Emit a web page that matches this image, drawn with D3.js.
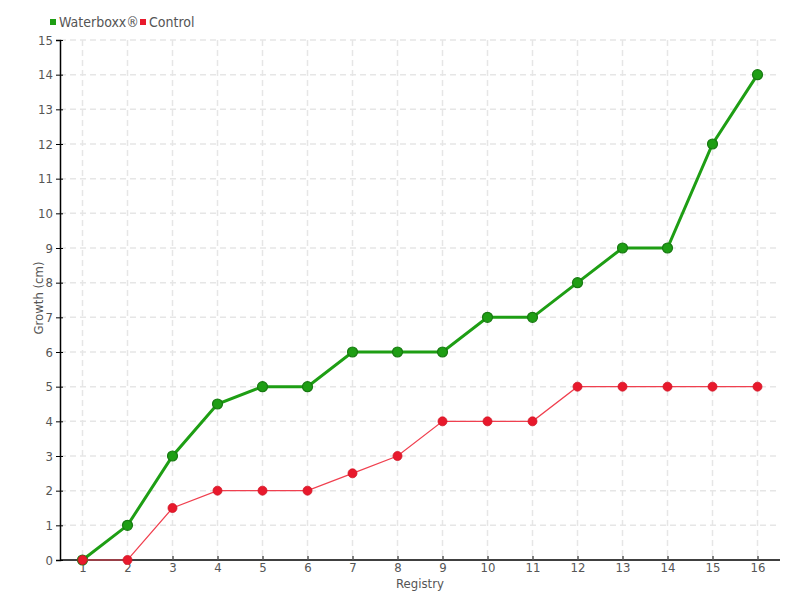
<!DOCTYPE html>
<html><head><meta charset="utf-8">
<script src="https://cdn.jsdelivr.net/npm/d3@7"></script>
<style>
body{margin:0;background:#fff;}
text{font-family:"DejaVu Sans",sans-serif;font-stretch:condensed;}
</style></head>
<body><svg id="c" width="800" height="600"></svg>
<script>
const registry = ["1","2","3","4","5","6","7","8","9","10","11","12","13","14","15","16"];
const waterboxx = [0,1,3,4.5,5,5,6,6,6,7,7,8,9,9,12,14];
const control = [0,0,1.5,2,2,2,2.5,3,4,4,4,5,5,5,5,5];
const yTicks = [0,1,2,3,4,5,6,7,8,9,10,11,12,13,14,15];
const seriesNames = ["Waterboxx®","Control"];

const svg = d3.select("#c");
const L=60,R=780,T=40,B=560;
const x = d3.scalePoint().domain(registry).range([L,R]).padding(0.5);
const y = d3.scaleLinear().domain([0,15]).range([B,T]);

const g = svg.append("g");
g.selectAll(".hg").data(yTicks.slice(1)).join("line")
  .attr("x1",L).attr("x2",R).attr("y1",d=>y(d)).attr("y2",d=>y(d))
  .attr("stroke","#e6e6e6").attr("stroke-dasharray","6,4").attr("stroke-width",1.5);
g.selectAll(".vg").data(registry).join("line")
  .attr("x1",d=>x(d)).attr("x2",d=>x(d)).attr("y1",T).attr("y2",B)
  .attr("stroke","#e6e6e6").attr("stroke-dasharray","6,4").attr("stroke-width",1.5);

const yAx = svg.append("g").attr("transform",`translate(${L},0)`)
  .call(d3.axisLeft(y).tickValues(yTicks).tickSize(4).tickPadding(3));
yAx.select(".domain").attr("stroke","#000").attr("stroke-width",1.5);
yAx.selectAll(".tick line").attr("stroke","#000").attr("x2",-4).attr("x1",3);
yAx.selectAll("text").attr("fill","#555").attr("font-size",13);

const xAx = svg.append("g").attr("transform",`translate(0,${B})`)
  .call(d3.axisBottom(x).tickSize(0).tickPadding(3));
xAx.select(".domain").attr("stroke","#000").attr("stroke-width",1.5).attr("d",`M${L},0H${R}`);
xAx.selectAll(".tick line").attr("stroke","#555").attr("y1",-4).attr("y2",0).attr("stroke-width",1.5);
xAx.selectAll("text").attr("fill","#555").attr("font-size",13);

svg.append("text").attr("x",420).attr("y",588).attr("text-anchor","middle")
  .attr("fill","#555").attr("font-size",13).text("Registry");
svg.append("text").attr("transform","translate(43,298) rotate(-90)").attr("text-anchor","middle")
  .attr("fill","#555").attr("font-size",13).text("Growth (cm)");

const line = d3.line().x((d,i)=>x(registry[i])).y(d=>y(d));
svg.append("path").datum(waterboxx).attr("d",line).attr("fill","none")
  .attr("stroke","#1e9e14").attr("stroke-width",3);
svg.selectAll(".gp").data(waterboxx).join("circle")
  .attr("cx",(d,i)=>x(registry[i])).attr("cy",d=>y(d)).attr("r",5)
  .attr("fill","#1e9e14").attr("stroke","#187a12").attr("stroke-width",1.2);
svg.append("path").datum(control).attr("d",line).attr("fill","none")
  .attr("stroke","#f0404f").attr("stroke-width",1.2);
svg.selectAll(".rp").data(control).join("circle")
  .attr("cx",(d,i)=>x(registry[i])).attr("cy",d=>y(d)).attr("r",4.5)
  .attr("fill","#e8192c").attr("stroke","#d01526").attr("stroke-width",0.8);

const colors=["#1e9e14","#e8192c"];
const lx=[50,140];
seriesNames.forEach((n,i)=>{
  svg.append("rect").attr("x",lx[i]).attr("y",19).attr("width",6).attr("height",6).attr("fill",colors[i]);
  svg.append("text").attr("x",lx[i]+9).attr("y",27).attr("fill","#555").attr("font-size",14).text(n);
});
</script></body></html>
